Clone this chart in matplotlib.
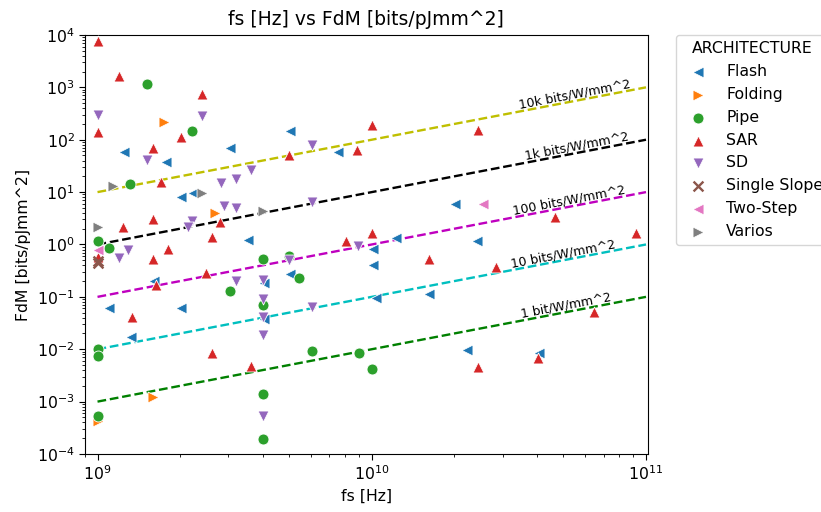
import numpy as np
import matplotlib.pyplot as plt

# sampling frequency [Hz] and figure of merit [bits/pJmm^2] per architecture
flash_fs = [1.25e9, 3.03e9, 1.77e9, 2.01e9, 2.23e9, 3.53e9, 1.61e9, 4.05e9,
            1.1e9, 2.02e9, 4.05e9, 1.32e9, 5.04e9, 7.56e9, 2.02e10, 1.23e10,
            1.01e10, 1.01e10, 5.04e9, 1.04e10, 1.62e10, 2.22e10, 2.41e10, 4.07e10]
flash_fdm = [58.5, 69.8, 37.2, 8.2, 9.5, 1.22, 0.205, 0.18,
             0.0625, 0.0625, 0.038, 0.0168, 147, 57.7, 5.88, 1.35,
             0.81, 0.408, 0.271, 0.0944, 0.113, 0.0097, 1.19, 0.0084]

folding_fs = [1.75e9, 2.69e9, 1.59e9, 1e9]
folding_fdm = [219, 4.06, 0.0012, 0.00043]

pipe_fs = [1.51e9, 2.21e9, 1.31e9, 1e9, 1.1e9, 4e9, 3.03e9, 4e9, 1e9,
           1e9, 4e9, 1e9, 4e9, 5e9, 5.43e9, 6.04e9, 9.02e9, 1e10]
pipe_fdm = [1146, 149, 14.3, 1.19, 0.86, 0.53, 0.13, 0.0703, 0.01,
            0.0073, 0.00139, 0.00054, 0.00019, 0.605, 0.228, 0.0093, 0.00865, 0.00417]

sar_fs = [1e9, 1.2e9, 2.41e9, 1e9, 2.01e9, 1.6e9, 1.71e9, 2.8e9, 1.24e9,
          1.6e9, 2.62e9, 1.81e9, 1e9, 1.6e9, 2.49e9, 1.64e9, 1.34e9, 2.62e9,
          3.62e9, 1e10, 5e9, 8.86e9, 2.43e10, 1e10, 8.06e9, 1.62e10, 4.66e10,
          9.16e10, 2.83e10, 6.46e10, 2.43e10, 4.03e10]
sar_fdm = [7780, 1650, 738, 139, 112, 70.6, 15.8, 2.74, 2.14,
           3.04, 1.38, 0.835, 0.573, 0.531, 0.283, 0.169, 0.042, 0.00865,
           0.00489, 191, 51.3, 63.9, 154, 1.69, 1.17, 0.524, 3.4,
           1.64, 0.369, 0.0524, 0.00455, 0.00676]

sd_fs = [1e9, 2.41e9, 1.51e9, 3.62e9, 3.19e9, 2.83e9, 2.88e9, 3.19e9,
         2.21e9, 2.13e9, 1.29e9, 1.2e9, 3.19e9, 4e9, 4e9, 4e9, 4e9, 4e9,
         6.04e9, 6.04e9, 8.93e9, 5e9, 6.04e9]
sd_fdm = [297, 284, 41.7, 26.2, 17.6, 14.8, 5.52, 4.93,
          2.86, 2.2, 0.79, 0.548, 0.2, 0.21, 0.0916, 0.042, 0.019, 0.00054,
          79.6, 6.59, 0.94, 0.508, 0.0653]

slope_fs = [1e9, 1e9]
slope_fdm = [0.44, 0.48]

twostep_fs = [1e9, 2.54e10]
twostep_fdm = [0.79, 5.88]

varios_fs = [1.14e9, 2.4e9, 1e9, 4e9]
varios_fdm = [13.3, 9.5, 2.14, 4.43]

arch_names = ['Flash', 'Folding', 'Pipe', 'SAR', 'SD', 'Single Slope', 'Two-Step', 'Varios']
arch_fs = [flash_fs, folding_fs, pipe_fs, sar_fs, sd_fs, slope_fs, twostep_fs, varios_fs]
arch_fdm = [flash_fdm, folding_fdm, pipe_fdm, sar_fdm, sd_fdm, slope_fdm, twostep_fdm, varios_fdm]
arch_markers = ['<', '>', 'o', '^', 'v', 'x', '<', '>']

# constant FdM/fs reference lines
ref_scale = [1e-8, 1e-9, 1e-10, 1e-11, 1e-12]
ref_labels = ['10k bits/W/mm^2', '1k bits/W/mm^2', '100 bits/W/mm^2',
              '10 bits/W/mm^2', '1 bit/W/mm^2']
ref_colors = ['y', 'k', 'm', 'c', 'g']
ref_text_x = [5.57e10, 5.67e10, 5.28e10, 5.02e10, 5.18e10]

plt.rcParams['font.size'] = 11.3
plt.rcParams['xtick.major.size'] = 4
plt.rcParams['ytick.major.size'] = 4
plt.rcParams['xtick.minor.size'] = 2.3
plt.rcParams['ytick.minor.size'] = 2.3

fig = plt.figure(figsize=(8.21, 5.12), dpi=100)
ax = fig.add_axes([0.1035, 0.1133, 0.6855, 0.8184])
colors = plt.cm.tab10.colors

for i, name in enumerate(arch_names):
    m = arch_markers[i]
    if m == 'x':
        ax.scatter(arch_fs[i], arch_fdm[i], marker=m, s=50, color=colors[i],
                   linewidths=1.7, label=name, zorder=3)
    else:
        ax.scatter(arch_fs[i], arch_fdm[i], marker=m, s=62, color=colors[i],
                   edgecolors='white', linewidths=0.6, label=name, zorder=3)

fs_line = np.array([1e9, 1e11])
for k, col in zip(ref_scale, ref_colors):
    ax.plot(fs_line, fs_line * k, '--', color=col, lw=1.7, zorder=2)

ax.set_xscale('log')
ax.set_yscale('log')
ax.set_xlim(9e8, 1.015e11)
ax.set_ylim(1e-4, 1e4)

# rotate the labels to follow the dashed lines on screen
p1 = ax.transData.transform((1e9, 1e9 * 1e-8))
p2 = ax.transData.transform((1e11, 1e11 * 1e-8))
angle = np.degrees(np.arctan2(p2[1] - p1[1], p2[0] - p1[0]))
for k, lab, tx in zip(ref_scale, ref_labels, ref_text_x):
    ax.text(tx, tx * k, lab, rotation=angle, rotation_mode='anchor',
            ha='center', va='bottom', fontsize=9)

ax.set_title('fs [Hz] vs FdM [bits/pJmm^2]', fontsize=13.5, pad=7)
ax.set_xlabel('fs [Hz]')
ax.set_ylabel('FdM [bits/pJmm^2]')
ax.legend(title='ARCHITECTURE', loc='upper left', bbox_to_anchor=(1.05, 1),
          borderaxespad=0)

plt.savefig('out.png', dpi=100)
